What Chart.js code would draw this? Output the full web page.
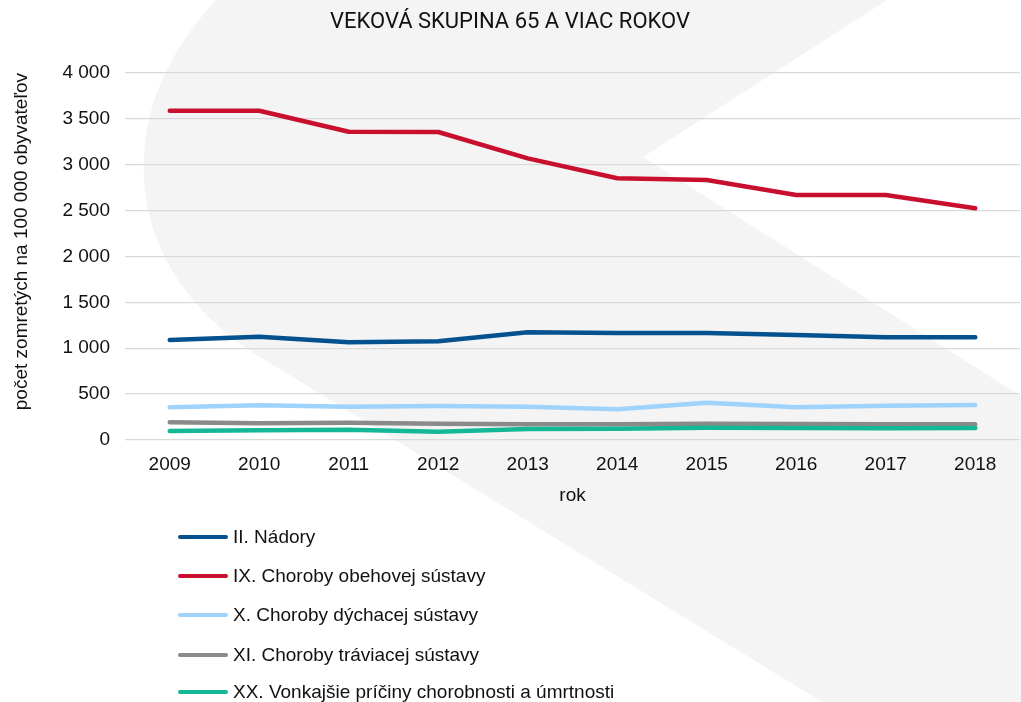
<!DOCTYPE html>
<html>
<head>
<meta charset="utf-8">
<script src="https://cdn.jsdelivr.net/npm/chart.js@4.4.1/dist/chart.umd.min.js"></script>
<style>
  html, body { margin: 0; padding: 0; background: #ffffff; }
  #wrap { position: relative; width: 1021px; height: 702px; overflow: hidden; }
  #c { position: absolute; left: 0; top: 0; }
  #legend { position: absolute; left: 178px; top: 0; font-family: "Liberation Sans", Arial, sans-serif; font-size: 19px; color: #111; }
  .item { position: absolute; left: 0; white-space: nowrap; display: flex; align-items: center; height: 22px; }
  .swatch { display: inline-block; width: 50px; height: 4px; border-radius: 2px; margin-right: 5px; }
</style>
</head>
<body>
<div id="wrap">
  <canvas id="c" width="1021" height="702"></canvas>
  <div id="legend"></div>
</div>
<script>
// ---- data ----
const years = ['2009','2010','2011','2012','2013','2014','2015','2016','2017','2018'];
const seriesNames = [
  'II. Nádory',
  'IX. Choroby obehovej sústavy',
  'X. Choroby dýchacej sústavy',
  'XI. Choroby tráviacej sústavy',
  'XX. Vonkajšie príčiny chorobnosti a úmrtnosti'
];
const nadory   = [1090, 1126, 1065, 1076, 1174, 1166, 1166, 1144, 1119, 1119];
const obehova  = [3589, 3589, 3360, 3357, 3069, 2853, 2834, 2671, 2671, 2525];
const dychacia = [356, 378, 363, 370, 363, 334, 407, 356, 374, 381];
const traviaca = [193, 182, 189, 178, 171, 171, 178, 174, 171, 171];
const vonkajsie = [98, 105, 112, 91, 120, 123, 134, 131, 127, 131];
const yTicks = [0, 500, 1000, 1500, 2000, 2500, 3000, 3500, 4000];

const colors = ['#03528f', '#c8102e', '#9fd3fb', '#8a8a8a', '#14b796'];
const seriesData = [nadory, obehova, dychacia, traviaca, vonkajsie];

const fmt = v => String(v).replace(/\B(?=(\d{3})+(?!\d))/g, ' ');
const FONT = '"Liberation Sans", Arial, sans-serif';

const bgShape = {
  id: 'bgShape',
  beforeDraw(chart) {
    const ctx = chart.ctx;
    ctx.save();
    ctx.fillStyle = '#ffffff';
    ctx.fillRect(0, 0, chart.width, chart.height);
    ctx.fillStyle = '#f4f4f4';
    ctx.beginPath();
    ctx.moveTo(216, 0);
    ctx.lineTo(887, 0);
    ctx.lineTo(643, 157);
    ctx.lineTo(1021, 396);
    ctx.lineTo(1021, 702);
    ctx.lineTo(822, 702);
    ctx.lineTo(252, 352);
    ctx.bezierCurveTo(175, 300, 140, 230, 144, 157);
    ctx.bezierCurveTo(147, 95, 175, 45, 216, 0);
    ctx.closePath();
    ctx.fill();
    ctx.restore();
  }
};

const ctx = document.getElementById('c').getContext('2d');
new Chart(ctx, {
  type: 'line',
  data: {
    labels: years,
    datasets: seriesData.map((d, i) => ({
      label: seriesNames[i],
      data: d,
      borderColor: colors[i],
      backgroundColor: colors[i],
      borderWidth: 4.5,
      pointRadius: 0,
      pointHoverRadius: 0,
      tension: 0,
      borderCapStyle: 'round',
      borderJoinStyle: 'round',
      fill: false
    })).reverse()
  },
  options: {
    responsive: false,
    animation: false,
    events: [],
    layout: { padding: { top: 0, left: 0, right: 1, bottom: 192 } },
    plugins: {
      legend: { display: false },
      tooltip: { enabled: false },
      title: {
        display: true,
        text: 'VEKOVÁ SKUPINA 65 A VIAC ROKOV',
        color: '#111111',
        font: { family: '"Liberation Sans Narrow", "Roboto", sans-serif', size: 22, weight: 'normal', lineHeight: 1.2 },
        padding: { top: 9, bottom: 37.6 }
      }
    },
    scales: {
      x: {
        type: 'category',
        offset: true,
        grid: { display: false, drawTicks: false },
        border: { display: false },
        ticks: { color: '#111', padding: 13, maxRotation: 0, font: { family: FONT, size: 19 } },
        title: { display: true, text: 'rok', color: '#111', padding: { top: 0, bottom: 3 }, font: { family: FONT, size: 19 } },
        afterFit(scale) { scale.height = 70; }
      },
      y: {
        min: 0,
        max: 4000,
        afterBuildTicks(scale) { scale.ticks = yTicks.map(v => ({ value: v })); },
        grid: { color: '#d9d9d9', lineWidth: 1.3, drawTicks: false },
        border: { display: false },
        ticks: { color: '#111', padding: 15, font: { family: FONT, size: 19 }, callback: v => fmt(v) },
        title: { display: true, align: 'end', text: 'počet zomretých na 100 000 obyvateľov', color: '#111', padding: { top: 10, bottom: 0 }, font: { family: FONT, size: 19 } },
        afterFit(scale) { scale.width = 125; }
      }
    }
  },
  plugins: [bgShape]
});

// HTML legend built from the series arrays
const legendTops = [526, 565, 604, 644, 681];
const leg = document.getElementById('legend');
seriesNames.forEach((name, i) => {
  const it = document.createElement('div');
  it.className = 'item';
  it.style.top = legendTops[i] + 'px';
  const sw = document.createElement('span');
  sw.className = 'swatch';
  sw.style.background = colors[i];
  const tx = document.createElement('span');
  tx.textContent = name;
  it.appendChild(sw);
  it.appendChild(tx);
  leg.appendChild(it);
});
</script>
</body>
</html>
